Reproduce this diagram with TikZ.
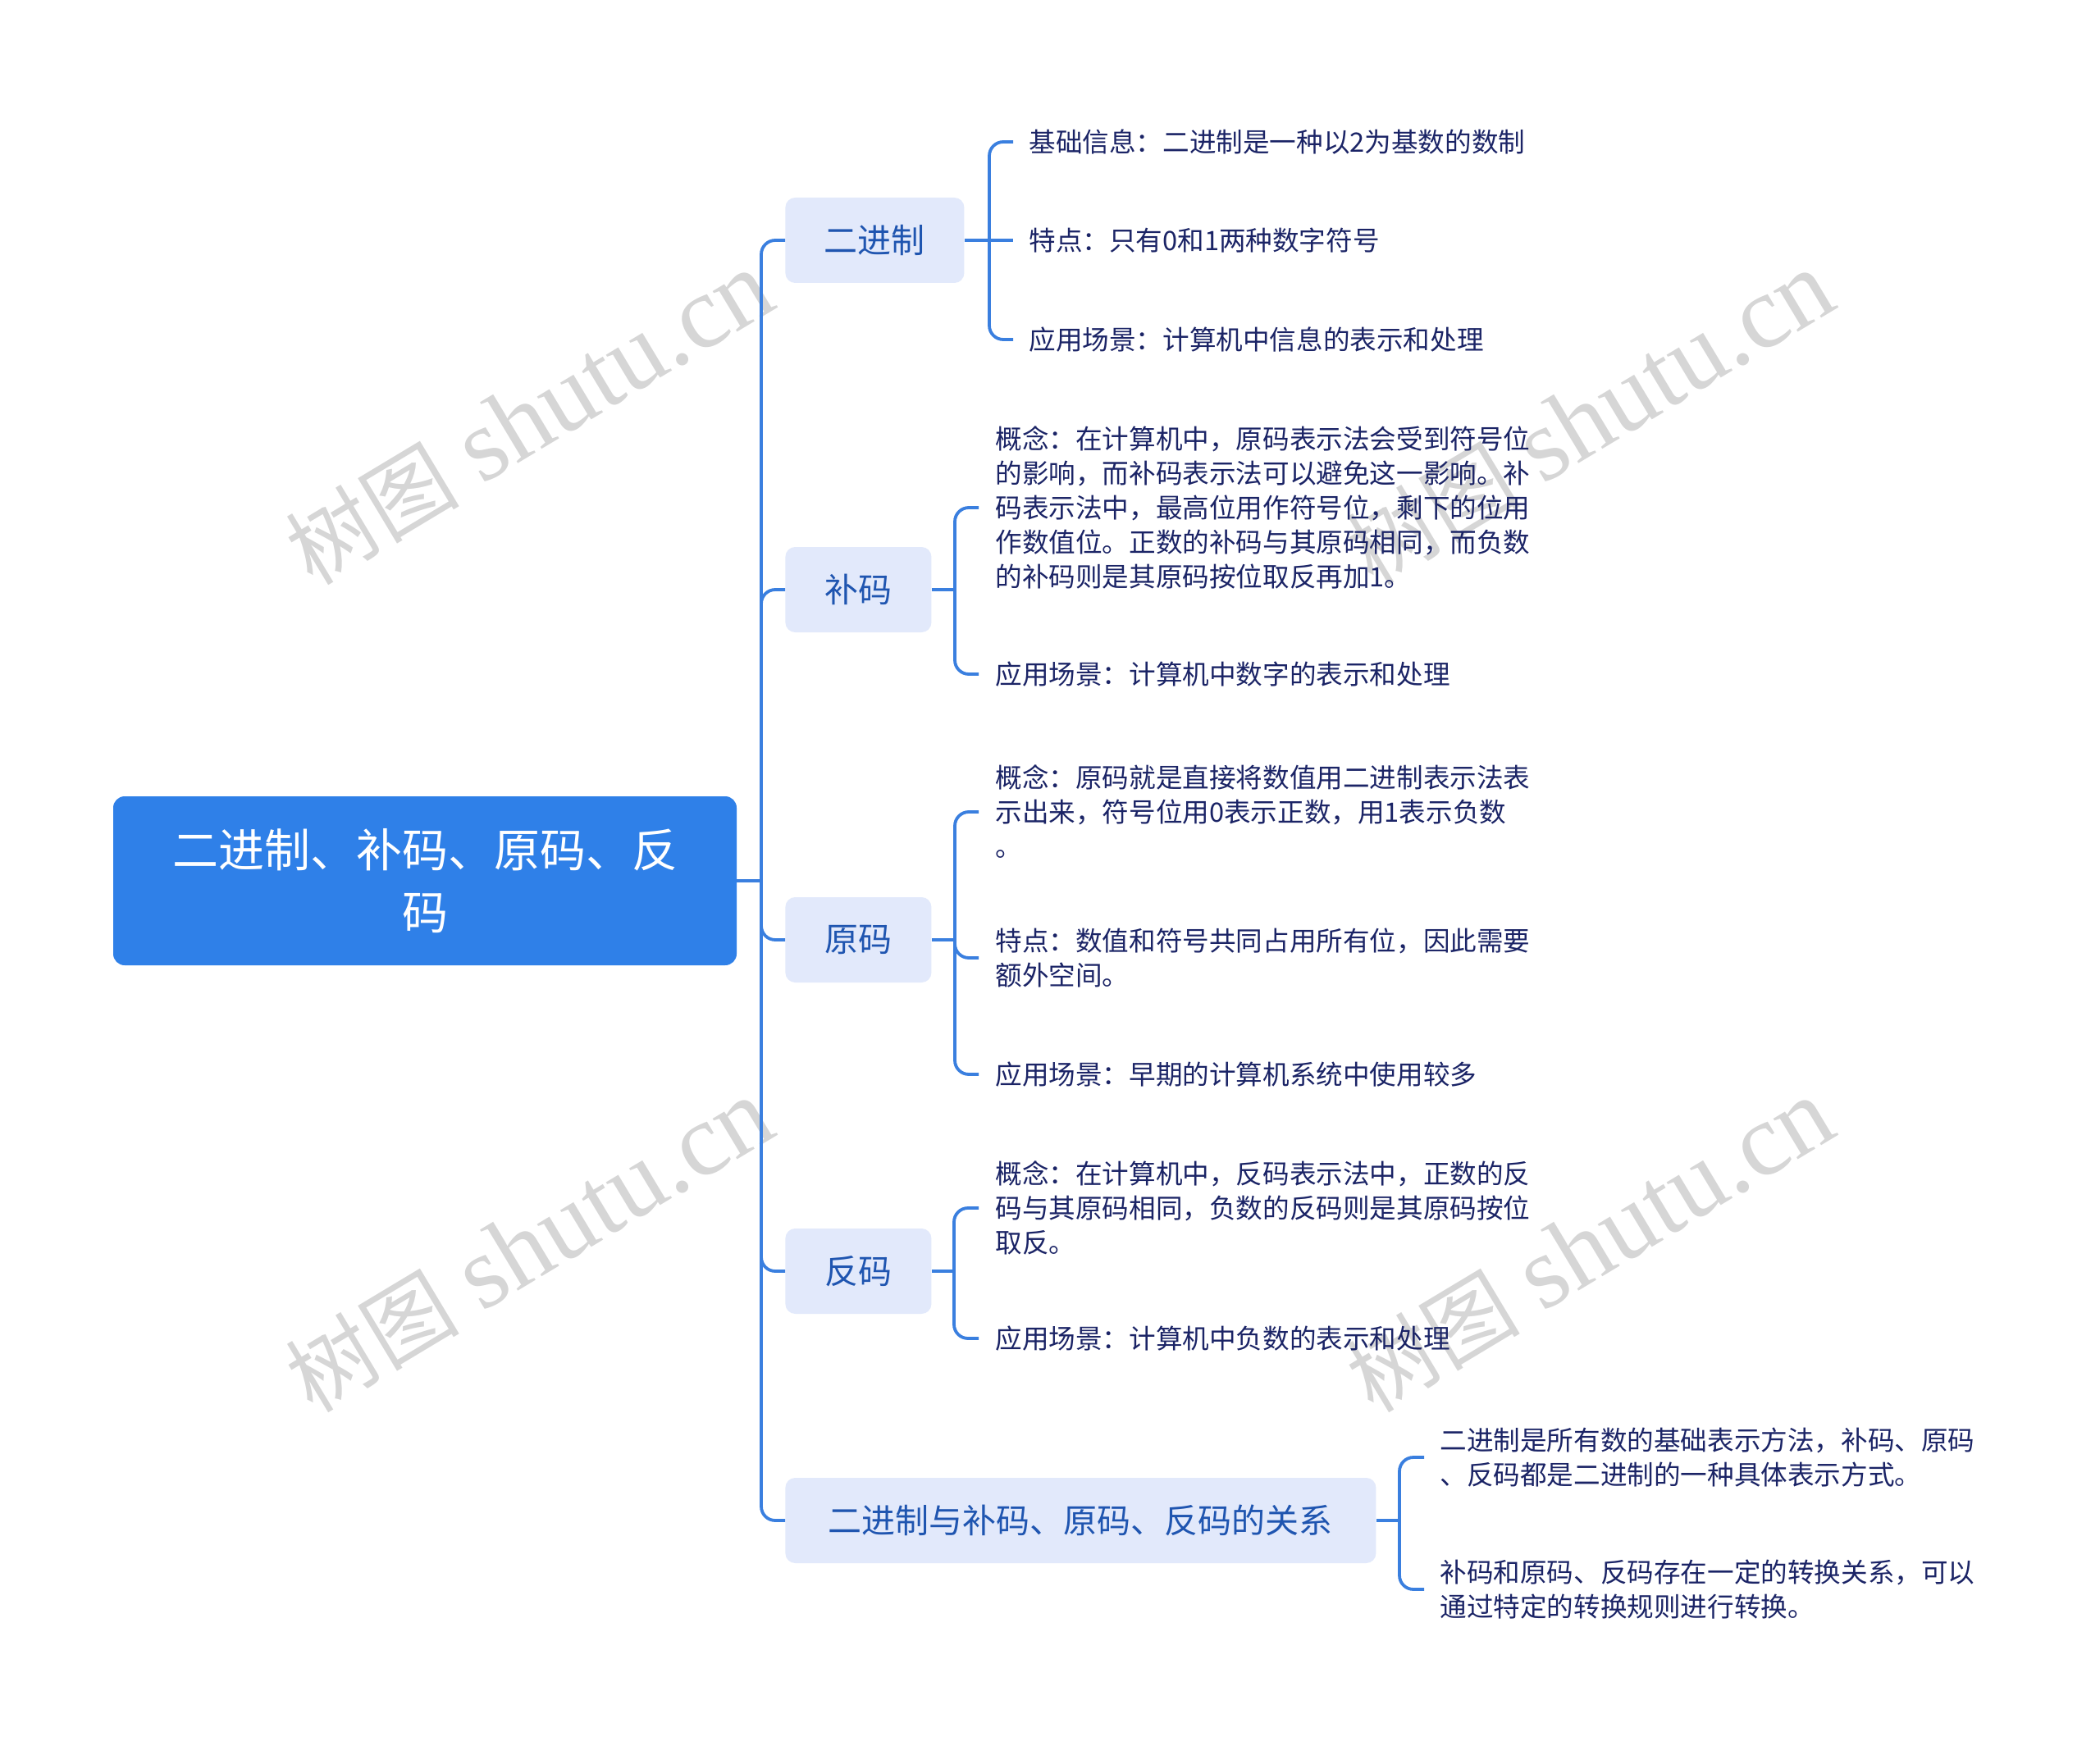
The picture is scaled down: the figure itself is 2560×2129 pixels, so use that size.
\documentclass[tikz,border=0pt]{standalone}
\usepackage{fontspec}
\setmainfont{Noto Sans CJK SC}
\newfontfamily\cjk{Noto Sans CJK SC}
\newfontfamily\wmserif{Liberation Serif}
\definecolor{rootblue}{HTML}{2F80E8}
\definecolor{branchfill}{HTML}{E2E9FB}
\definecolor{branchtext}{HTML}{1F55B0}
\definecolor{leaftext}{HTML}{1B2466}
\definecolor{linec}{HTML}{3A7FDF}
\definecolor{wmgray}{HTML}{D6D6D6}
\begin{document}
\begin{tikzpicture}[x=0.5pt,y=-0.5pt,
  conn/.style={draw=linec, line width=1.9pt, rounded corners=8.5pt},
  rootnode/.style={fill=rootblue, text=white, rounded corners=7pt, minimum width=380pt, minimum height=103pt, align=center, inner sep=0pt, font=\fontsize{28pt}{38pt}\selectfont},
  branchnode/.style={fill=branchfill, text=branchtext, rounded corners=6pt, minimum height=52pt, inner sep=0pt, anchor=west, font=\fontsize{20.5pt}{24pt}\selectfont},
  leafnode/.style={anchor=west, align=left, inner xsep=10pt, inner ysep=0pt, text=leaftext, font=\fontsize{16.3pt}{21pt}\selectfont},
  wmark/.style={rotate=31, text=wmgray, font=\fontsize{63pt}{63pt}\selectfont}]
\useasboundingbox (0,0) rectangle (2560,2129);
\fill[white] (0,0) rectangle (2560,2129);
% watermarks
\node[wmark] (w1) at (645,510) {{\cjk\fontsize{53pt}{53pt}\selectfont 树图} {\wmserif shutu.cn}};
\node[wmark] (w2) at (1938,510) {{\cjk\fontsize{53pt}{53pt}\selectfont 树图} {\wmserif shutu.cn}};
\node[wmark] (w3) at (645,1519) {{\cjk\fontsize{53pt}{53pt}\selectfont 树图} {\wmserif shutu.cn}};
\node[wmark] (w4) at (1938,1519) {{\cjk\fontsize{53pt}{53pt}\selectfont 树图} {\wmserif shutu.cn}};
% root
\node[rootnode] (root) at (518,1074) {二进制、补码、原码、反\\码};
\coordinate (T) at (928,1074);
% branches
\node[branchnode, minimum width=109pt] (b1) at (957,293) {二进制};
\node[branchnode, minimum width=89pt] (b2) at (957,719) {补码};
\node[branchnode, minimum width=89pt] (b3) at (957,1146) {原码};
\node[branchnode, minimum width=89pt] (b4) at (957,1550) {反码};
\node[branchnode, minimum width=360pt] (b5) at (957,1854) {二进制与补码、原码、反码的关系};
\draw[conn] (root.east) -- (T);
\draw[conn] (T) |- (b1.west);
\draw[conn] (T) |- (b2.west);
\draw[conn] (T) |- (b3.west);
\draw[conn] (T) |- (b4.west);
\draw[conn] (T) |- (b5.west);
% junctions
\coordinate (J1) at (1206,293);
\coordinate (J2) at (1164,719);
\coordinate (J3) at (1164,1146);
\coordinate (J4) at (1163,1550);
\coordinate (J5) at (1706,1854);
\draw[conn] (b1.east) -- (J1);
\draw[conn] (b2.east) -- (J2);
\draw[conn] (b3.east) -- (J3);
\draw[conn] (b4.east) -- (J4);
\draw[conn] (b5.east) -- (J5);
% leaves
\node[leafnode, inner xsep=9.5pt] (l11) at (1235,173) {基础信息：二进制是一种以2为基数的数制};
\node[leafnode, inner xsep=9.5pt] (l12) at (1235,293) {特点：只有0和1两种数字符号};
\node[leafnode, inner xsep=9.5pt] (l13) at (1235,414) {应用场景：计算机中信息的表示和处理};
\node[leafnode] (l21) at (1193,619) {概念：在计算机中，原码表示法会受到符号位\\的影响，而补码表示法可以避免这一影响。补\\码表示法中，最高位用作符号位，剩下的位用\\作数值位。正数的补码与其原码相同，而负数\\的补码则是其原码按位取反再加1。};
\node[leafnode] (l22) at (1193,822) {应用场景：计算机中数字的表示和处理};
\node[leafnode] (l31) at (1193,990) {概念：原码就是直接将数值用二进制表示法表\\示出来，符号位用0表示正数，用1表示负数\\。};
\node[leafnode] (l32) at (1193,1168) {特点：数值和符号共同占用所有位，因此需要\\额外空间。};
\node[leafnode] (l33) at (1193,1310) {应用场景：早期的计算机系统中使用较多};
\node[leafnode] (l41) at (1193,1473) {概念：在计算机中，反码表示法中，正数的反\\码与其原码相同，负数的反码则是其原码按位\\取反。};
\node[leafnode] (l42) at (1193,1632) {应用场景：计算机中负数的表示和处理};
\node[leafnode, inner xsep=9.5pt] (l51) at (1736,1777) {二进制是所有数的基础表示方法，补码、原码\\、反码都是二进制的一种具体表示方式。};
\node[leafnode, inner xsep=9.5pt] (l52) at (1736,1938) {补码和原码、反码存在一定的转换关系，可以\\通过特定的转换规则进行转换。};
\draw[conn] (J1) |- (l11.west);
\draw[conn] (J1) -- (l12.west);
\draw[conn] (J1) |- (l13.west);
\draw[conn] (J2) |- (l21.west);
\draw[conn] (J2) |- (l22.west);
\draw[conn] (J3) |- (l31.west);
\draw[conn] (J3) |- (l32.west);
\draw[conn] (J3) |- (l33.west);
\draw[conn] (J4) |- (l41.west);
\draw[conn] (J4) |- (l42.west);
\draw[conn] (J5) |- (l51.west);
\draw[conn] (J5) |- (l52.west);
\end{tikzpicture}
\end{document}
